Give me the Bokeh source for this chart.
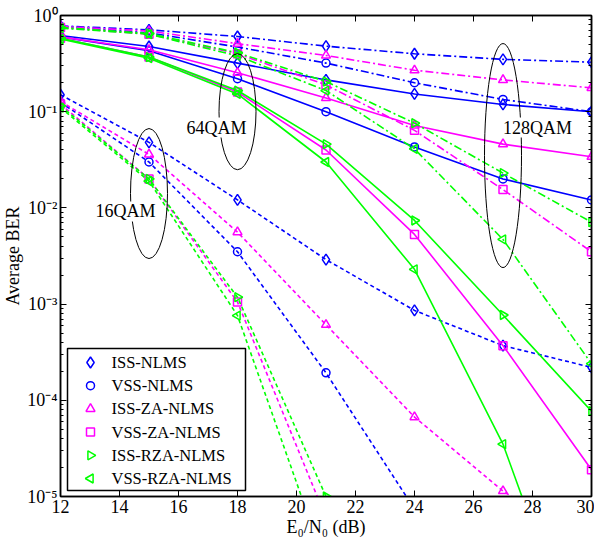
import numpy as np
from bokeh.plotting import figure
from bokeh.models import (FixedTicker, LinearAxis, LogAxis, Label, Range1d, LinearScale,
                          CustomJSTickFormatter)
from bokeh.core.properties import value
from bokeh.embed import file_html
from bokeh.resources import INLINE

# ---------------- data ----------------
snr = [12, 15, 18, 21, 24, 27, 30]
x_ticks = [12, 14, 16, 18, 20, 22, 24, 26, 28, 30]
y_ticks = [1e-5, 1e-4, 1e-3, 1e-2, 1e-1, 1e0]

names = ["ISS-NLMS", "VSS-NLMS", "ISS-ZA-NLMS", "VSS-ZA-NLMS", "ISS-RZA-NLMS", "VSS-RZA-NLMS"]

# 16QAM (dashed)
iss_16 = [0.15, 0.048, 0.0121, 0.0029, 8.6e-4, 3.7e-4, 2.2e-4]
vss_16 = [0.125, 0.030, 0.0035, 1.93e-4, 7.4e-6]
iss_za_16 = [0.128, 0.036, 0.0056, 6.1e-4, 6.7e-5, 1.14e-5, 3e-6]
vss_za_16 = [0.12, 0.020, 0.00105, 6e-6]
iss_rza_16 = [0.115, 0.020, 0.00118, 1.0e-5]
vss_rza_16 = [0.11, 0.019, 7.6e-4, 1.9e-6]

# 64QAM (solid)
iss_64 = [0.62, 0.476, 0.32, 0.214, 0.153, 0.119, 0.10]
vss_64 = [0.60, 0.43, 0.22, 0.10, 0.043, 0.020, 0.0121]
iss_za_64 = [0.60, 0.44, 0.254, 0.139, 0.072, 0.046, 0.034]
vss_za_64 = [0.58, 0.37, 0.16, 0.040, 0.0053, 3.7e-4, 1.9e-5]
iss_rza_64 = [0.58, 0.37, 0.166, 0.046, 0.0074, 7.7e-4, 7.7e-5]
vss_rza_64 = [0.57, 0.36, 0.153, 0.030, 0.0023, 3.5e-5, 1e-7]

# 128QAM (dash-dot)
iss_128 = [0.78, 0.71, 0.605, 0.48, 0.40, 0.35, 0.327]
vss_128 = [0.77, 0.66, 0.47, 0.32, 0.20, 0.134, 0.10]
iss_za_128 = [0.77, 0.69, 0.51, 0.384, 0.27, 0.214, 0.177]
vss_za_128 = [0.75, 0.64, 0.40, 0.19, 0.064, 0.0155, 0.0035]
iss_rza_128 = [0.75, 0.65, 0.41, 0.206, 0.076, 0.023, 0.0071]
vss_rza_128 = [0.74, 0.64, 0.38, 0.166, 0.041, 0.0047, 2.4e-4]

groups = {
    "16QAM": [iss_16, vss_16, iss_za_16, vss_za_16, iss_rza_16, vss_rza_16],
    "64QAM": [iss_64, vss_64, iss_za_64, vss_za_64, iss_rza_64, vss_rza_64],
    "128QAM": [iss_128, vss_128, iss_za_128, vss_za_128, iss_rza_128, vss_rza_128],
}
group_dash = {"16QAM": "4 3", "64QAM": "solid", "128QAM": "8 3 2 3"}

colors = ["#0000FF", "#0000FF", "#FF00FF", "#FF00FF", "#00FF00", "#00FF00"]
markers = ["diamond", "circle", "triangle", "square", "triangle", "triangle"]
angles = [0, 0, 0, 0, -np.pi / 2, np.pi / 2]
sizes = [11, 8, 9, 8, 9, 9]

# annotation ellipses / labels
ell_x = [15, 18, 27]
ell_y = [0.0141, 0.1, 0.035]
ell_w = [37, 37, 37]
ell_h = [130, 116, 224]
ann_text = ["16QAM", "64QAM", "128QAM"]
ann_x = [14.2, 17.29, 28.17]
ann_y = [0.0092, 0.0685, 0.0685]

FONT = "Liberation Serif"

# layout (pixels)
FW, FH = 531, 481
leg_box = dict(left=7, right=185, bottom=6, top=148)
leg_marker_x = 30
leg_text_x = 51
leg_row_top = 134
leg_row_step = 23.2

p = figure(frame_width=FW, frame_height=FH, x_range=(12, 30), y_range=(1e-5, 1),
           y_axis_type="log", output_backend="svg", toolbar_location=None,
           min_border_left=56, min_border_right=3, min_border_top=15, min_border_bottom=42)
p.grid.visible = False
p.outline_line_color = "black"
p.outline_line_width = 1.5
p.background_fill_color = "white"

p.extra_x_ranges = {"px": Range1d(0, FW)}
p.extra_y_ranges = {"py": Range1d(0, FH)}
p.extra_x_scales = {"px": LinearScale()}
p.extra_y_scales = {"py": LinearScale()}

for gname, series in groups.items():
    for i, vals in enumerate(series):
        xs = snr[:len(vals)]
        p.line(xs, vals, line_color=colors[i], line_width=1.6, line_dash=group_dash[gname])
        p.scatter(xs, vals, marker=markers[i], size=sizes[i], angle=angles[i],
                  line_color=colors[i], line_width=1.5, fill_color=None)

p.ellipse(x=ell_x, y=ell_y, width=ell_w, height=ell_h, width_units="screen",
          height_units="screen", fill_color=None, line_color="black", line_width=1)

for t, lx, ly in zip(ann_text, ann_x, ann_y):
    p.add_layout(Label(x=lx, y=ly, text=t, text_font=FONT, text_font_size="18px",
                       text_color="black", text_align="center", text_baseline="middle",
                       background_fill_color="white", background_fill_alpha=1.0))

# ---- legend (drawn in frame pixel space so rotated markers appear correctly) ----
p.quad(left=[leg_box["left"]], right=[leg_box["right"]], bottom=[leg_box["bottom"]],
       top=[leg_box["top"]], fill_color="white", line_color="black", line_width=1.5,
       x_range_name="px", y_range_name="py")
for i, n in enumerate(names):
    ry = leg_row_top - i * leg_row_step
    p.scatter([leg_marker_x], [ry], marker=markers[i], size=sizes[i], angle=angles[i],
              line_color=colors[i], line_width=1.5, fill_color=None,
              x_range_name="px", y_range_name="py")
    p.text([leg_text_x], [ry], text=[n], text_font=value(FONT), text_font_size="16.5px",
           text_color="black", text_align="left", text_baseline="middle",
           x_range_name="px", y_range_name="py")

sup_code = """
const e = Math.round(Math.log10(tick));
const m = {"0":"\u2070","1":"\u00b9","2":"\u00b2","3":"\u00b3","4":"\u2074","5":"\u2075","6":"\u2076","-":"\u207b"};
return "10" + String(e).split("").map(c => m[c]).join("");
"""
blank_code = "return '';"

minor_y = [m * 10.0 ** e for e in range(-5, 0) for m in range(2, 10)]


def style_axis(ax, labels=True):
    ax.axis_line_width = 1.5
    ax.axis_line_color = "black"
    ax.major_tick_in = 6
    ax.major_tick_out = 0
    ax.minor_tick_in = 3
    ax.minor_tick_out = 0
    ax.major_tick_line_color = "black"
    ax.minor_tick_line_color = "black"
    ax.major_label_text_font = FONT
    ax.major_label_text_color = "black"
    ax.major_label_text_font_size = "18px"
    ax.axis_label_text_font = FONT
    ax.axis_label_text_font_style = "normal"
    ax.axis_label_text_color = "black"
    ax.axis_label_text_font_size = "18px"
    if labels:
        ax.major_label_standoff = 3
    else:
        ax.formatter = CustomJSTickFormatter(code=blank_code)
        ax.major_label_standoff = 0


xax = p.xaxis[0]
style_axis(xax)
xax.ticker = FixedTicker(ticks=x_ticks)
xax.axis_label = "E\u2080/N\u2080 (dB)"
xax.axis_label_standoff = 1

yax = p.yaxis[0]
style_axis(yax)
yax.ticker = FixedTicker(ticks=y_ticks, minor_ticks=minor_y)
yax.formatter = CustomJSTickFormatter(code=sup_code)
yax.axis_label = "Average BER"
yax.axis_label_standoff = 1

top = LinearAxis(ticker=FixedTicker(ticks=x_ticks))
style_axis(top, labels=False)
p.add_layout(top, "above")

right = LogAxis(ticker=FixedTicker(ticks=y_ticks, minor_ticks=minor_y))
style_axis(right, labels=False)
p.add_layout(right, "right")

open("out.html", "w").write(file_html(p, INLINE))
